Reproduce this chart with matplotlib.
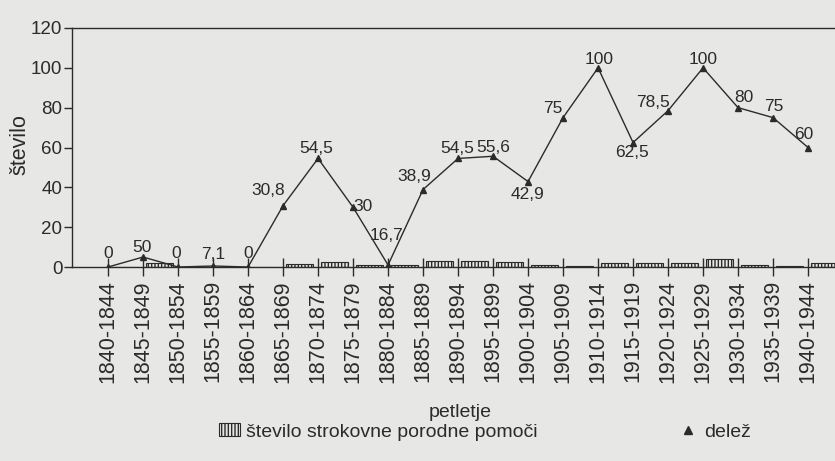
import matplotlib
matplotlib.use("Agg")
import matplotlib.pyplot as plt
from matplotlib.patches import Patch
from matplotlib.lines import Line2D

plt.rcParams['font.family'] = ['Liberation Sans', 'DejaVu Sans']
plt.rcParams['hatch.linewidth'] = 1.0

# ---- data ----
categories = ["1840-1844", "1845-1849", "1850-1854", "1855-1859", "1860-1864",
              "1865-1869", "1870-1874", "1875-1879", "1880-1884", "1885-1889",
              "1890-1894", "1895-1899", "1900-1904", "1905-1909", "1910-1914",
              "1915-1919", "1920-1924", "1925-1929", "1930-1934", "1935-1939",
              "1940-1944"]
stevilo = [0, 2, 0, 0, 0, 1.5, 2.7, 1.2, 1, 3, 3, 2.3, 0.8, 0.6, 2.2, 2.2, 2.2, 4.2, 1, 0.4, 1.9]
delez = [0, 5, 0, 0.5, 0, 30.8, 54.5, 30, 1, 38.9, 54.5, 55.6, 42.9, 75, 100,
         62.5, 78.5, 100, 80, 75, 60]
delez_labels = ["0", "50", "0", "7,1", "0", "30,8", "54,5", "30", "16,7", "38,9",
                "54,5", "55,6", "42,9", "75", "100", "62,5", "78,5", "100", "80",
                "75", "60"]
y_ticks = [0, 20, 40, 60, 80, 100, 120]

# label placement offsets (pixels, relative to point)
label_offsets_px = [(0, 13), (-1, 10), (-2, 13), (0, 12), (0, 13), (-15, 15), (-2, 10),
                    (10, 1), (-2, 30), (-9, 13), (-1, 10), (0, 9), (-1, -13),
                    (-10, 9), (1, 8), (-1, -10), (-15, 8), (0, 8), (6, 10), (1, 11),
                    (-4, 13)]

BG = '#e7e7e5'
INK = '#2b2b2b'

fig = plt.figure(figsize=(8.35, 4.61), dpi=100, facecolor=BG)
ax = fig.add_axes([72/835, 194/461, 1 - 72/835, 239/461])
ax.set_facecolor(BG)

x = list(range(len(categories)))
ax.bar([i + 0.07 for i in x], stevilo, width=0.78, align='edge',
       facecolor=BG, edgecolor=INK, hatch='|||||', linewidth=0.8, zorder=2)
ax.plot(x, delez, color=INK, lw=1.0, marker='^', markersize=4.5,
        markerfacecolor=INK, markeredgecolor=INK, zorder=3)

for i, (v, lab) in enumerate(zip(delez, delez_labels)):
    dx, dy = label_offsets_px[i]
    ax.annotate(lab, (i, v), xytext=(dx * 0.72, dy * 0.72), textcoords='offset points',
                ha='center', va='center', fontsize=12.5, color=INK, zorder=4)

ax.set_xlim(-1.03, 20.77)
ax.set_ylim(0, 120)
ax.set_yticks(y_ticks)
ax.set_yticklabels([str(t) for t in y_ticks], fontsize=13.5, color=INK)
ax.set_xticks(x)
ax.set_xticklabels(categories, rotation=90, fontsize=15.5, color=INK)
ax.tick_params(axis='y', direction='out', length=6, width=1, color=INK, pad=1)
ax.tick_params(axis='x', direction='inout', length=13, width=1, color=INK, pad=3)

for s in ['left', 'top', 'bottom']:
    ax.spines[s].set_color(INK)
    ax.spines[s].set_linewidth(1.0)
ax.spines['right'].set_visible(False)

fig.text(460/835, 1 - 412/461, "petletje", ha='center', va='center', fontsize=14, color=INK)
fig.text(20/835, 1 - 145/461, "število", ha='center', va='center', rotation=90,
         fontsize=15.5, color=INK)

handles = [Patch(facecolor=BG, edgecolor=INK, hatch='|||||', linewidth=0.8),
           Line2D([], [], linestyle='none', marker='^', markersize=6, color=INK)]
fig.legend(handles, ["število strokovne porodne pomoči", "delež"],
           loc='center', bbox_to_anchor=(485/835, 29/461), ncol=2, frameon=False,
           fontsize=14, handlelength=1.1, handleheight=0.6, handletextpad=0.3,
           columnspacing=7.2, labelcolor=INK)

fig.savefig("out.png", dpi=100, facecolor=BG)
